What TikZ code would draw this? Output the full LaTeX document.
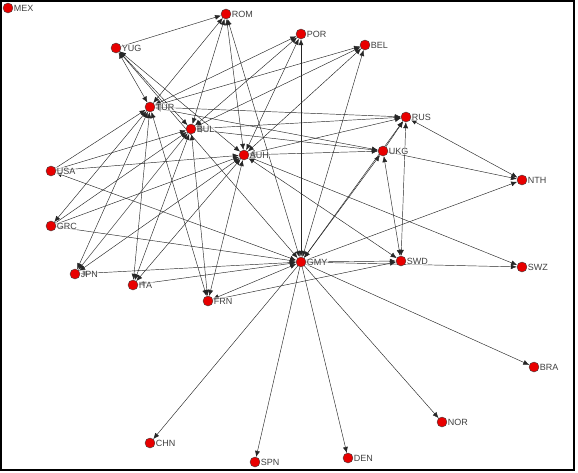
\documentclass[tikz,border=0pt]{standalone}
\usepackage{fontspec}
\setsansfont{Liberation Sans}
\usepackage{xcolor}
\usetikzlibrary{arrows.meta}
\usetikzlibrary{backgrounds}
\definecolor{nodered}{RGB}{232,0,0}
\definecolor{labelgray}{RGB}{64,64,64}

\tikzset{
  country/.style={circle, draw=black!75, fill=nodered, minimum size=10pt, inner sep=0pt, line width=0.4pt, label distance=0.3pt},
  lbl/.style={font=\sffamily\fontsize{9}{9}\selectfont, text=labelgray, inner sep=0.5pt, fill=white, fill opacity=0.6, text opacity=1},
  tie/.style={line width=0.45pt, draw=black!85, >={Latex[length=6pt,width=5pt]}},
}

\begin{document}
\begin{tikzpicture}[x=1pt, y=-1pt]
\useasboundingbox (0,0) rectangle (578,472);
\draw[line width=1.2pt] (1,1) rectangle (574,470);

% countries
\node[country, label={[lbl]right:MEX}] (mex) at (8,8) {};
\node[country, label={[lbl]right:ROM}] (rom) at (226,14) {};
\node[country, label={[lbl]right:POR}] (por) at (301,34) {};
\node[country, label={[lbl]right:BEL}] (bel) at (365,45) {};
\node[country, label={[lbl]right:YUG}] (yug) at (116,48) {};
\node[country, label={[lbl]right:TUR}] (tur) at (150,107) {};
\node[country, label={[lbl]right:BUL}] (bul) at (191,129) {};
\node[country, label={[lbl]right:AUH}] (auh) at (244,155) {};
\node[country, label={[lbl]right:RUS}] (rus) at (406,117) {};
\node[country, label={[lbl]right:UKG}] (ukg) at (383,151) {};
\node[country, label={[lbl]right:USA}] (usa) at (51,171) {};
\node[country, label={[lbl]right:NTH}] (nth) at (522,180) {};
\node[country, label={[lbl]right:GRC}] (grc) at (51,226) {};
\node[country, label={[lbl]right:GMY}] (gmy) at (301,262) {};
\node[country, label={[lbl]right:SWD}] (swd) at (401,261) {};
\node[country, label={[lbl]right:SWZ}] (swz) at (522,267) {};
\node[country, label={[lbl]right:JPN}] (jpn) at (75,274) {};
\node[country, label={[lbl]right:ITA}] (ita) at (133,285) {};
\node[country, label={[lbl]right:FRN}] (frn) at (208,301) {};
\node[country, label={[lbl]right:BRA}] (bra) at (534,367) {};
\node[country, label={[lbl]right:NOR}] (nor) at (442,422) {};
\node[country, label={[lbl]right:CHN}] (chn) at (150,443) {};
\node[country, label={[lbl]right:SPN}] (spn) at (255,462) {};
\node[country, label={[lbl]right:DEN}] (den) at (348,458) {};

\begin{scope}[on background layer]
% central powers and their enemies
\foreach \c in {tur,bul,auh,gmy}
  \foreach \a in {rom,por,bel,yug,rus,ukg,jpn,ita,frn}
    \draw[tie, <->] (\a) -- (\c);
\foreach \c in {tur,bul,auh}
  \draw[tie, ->] (usa) -- (\c);
\draw[tie, <->] (gmy) -- (usa);
\draw[tie, <->] (tur) -- (grc);
\foreach \c in {bul,auh,gmy}
  \draw[tie, ->] (grc) -- (\c);

% germany and the rest
\foreach \n in {nth,swd,swz,bra,nor,den,spn,chn}
  \draw[tie, ->] (gmy) -- (\n);

% the others
\draw[tie, ->] (yug) -- (rom);
\draw[tie, <->] (auh) -- (swd);
\draw[tie, <->] (auh) -- (swz);
\draw[tie, ->] (frn) -- (swd);
\draw[tie, <->] (ukg) -- (swd);
\draw[tie, <->] (rus) -- (swd);
\draw[tie, ->] (ukg) -- (rus);
\draw[tie, ->] (ukg) -- (nth);
\draw[tie, <->] (rus) -- (nth);
\end{scope}
\end{tikzpicture}
\end{document}
